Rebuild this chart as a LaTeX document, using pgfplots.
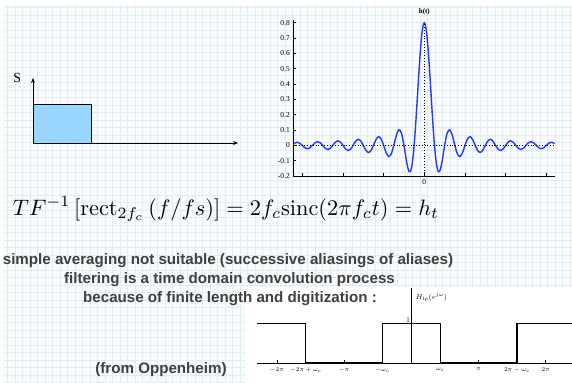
\documentclass[border=0pt]{standalone}
\usepackage{pgfplots}
\pgfplotsset{compat=1.18}
\usepackage{graphicx}
\usepackage{fontspec}
\usetikzlibrary{arrows.meta}
\newfontfamily\hel{Liberation Sans}
\newfontfamily\tms{Liberation Serif}
\definecolor{gridbg}{RGB}{248,250,251}
\definecolor{gridln}{RGB}{226,235,240}
\definecolor{txt}{RGB}{64,64,64}
\definecolor{sincblue}{RGB}{30,60,255}
\definecolor{rectblue}{RGB}{153,214,255}

\pgfplotstableread{
t h
-12.8 0.0117
-12.75 0.0141
-12.5 0.0204
-12.25 0.0147
-12 0
-11.75 -0.0153
-11.5 -0.0221
-11.25 -0.0160
-11 0
-10.75 0.0168
-10.5 0.0243
-10.25 0.0176
-10 0
-9.75 -0.0185
-9.5 -0.0268
-9.25 -0.0195
-9 0
-8.75 0.0206
-8.5 0.0300
-8.25 0.0218
-8 0
-7.75 -0.0232
-7.5 -0.0340
-7.25 -0.0248
-7 0
-6.75 0.0267
-6.5 0.0392
-6.25 0.0288
-6 0
-5.75 -0.0313
-5.5 -0.0463
-5.25 -0.0343
-5 0
-4.75 0.0379
-4.5 0.0566
-4.25 0.0424
-4 0
-3.75 -0.0480
-3.5 -0.0728
-3.25 -0.0554
-3 0
-2.75 0.0655
-2.5 0.1019
-2.25 0.0800
-2 0
-1.875 -0.0520
-1.75 -0.1029
-1.625 -0.1448
-1.5 -0.1698
-1.375 -0.1711
-1.25 -0.1441
-1.125 -0.0866
-1 0
-0.875 0.1114
-0.75 0.2401
-0.625 0.3764
-0.5 0.5093
-0.375 0.6274
-0.25 0.7203
-0.125 0.7796
0 0.8
0.125 0.7796
0.25 0.7203
0.375 0.6274
0.5 0.5093
0.625 0.3764
0.75 0.2401
0.875 0.1114
1 0
1.125 -0.0866
1.25 -0.1441
1.375 -0.1711
1.5 -0.1698
1.625 -0.1448
1.75 -0.1029
1.875 -0.0520
2 0
2.25 0.0800
2.5 0.1019
2.75 0.0655
3 0
3.25 -0.0554
3.5 -0.0728
3.75 -0.0480
4 0
4.25 0.0424
4.5 0.0566
4.75 0.0379
5 0
5.25 -0.0343
5.5 -0.0463
5.75 -0.0313
6 0
6.25 0.0288
6.5 0.0392
6.75 0.0267
7 0
7.25 -0.0248
7.5 -0.0340
7.75 -0.0232
8 0
8.25 0.0218
8.5 0.0300
8.75 0.0206
9 0
9.25 -0.0195
9.5 -0.0268
9.75 -0.0185
10 0
10.25 0.0176
10.5 0.0243
10.75 0.0168
11 0
11.25 -0.0160
11.5 -0.0221
11.75 -0.0153
12 0
12.25 0.0147
12.5 0.0204
12.75 0.0141
12.8 0.0117
}\sinctable

\begin{document}
\begin{tikzpicture}
\useasboundingbox (0,0) rectangle (572bp,-383bp);
\fill[white] (0,0) rectangle (572bp,-383bp);
\fill[gridbg] (4bp,-5bp) rectangle (572bp,-383bp);
\begin{scope}
\clip (4bp,-5bp) rectangle (572bp,-383bp);
\draw[gridln, line width=0.4bp, step=7.5bp] (0,-390bp) grid (580bp,0);
\end{scope}
\fill[white] (245bp,-287bp) rectangle (572bp,-383bp);

% ---- sinc plot ----
\begin{axis}[at={(293.3bp,-176bp)}, anchor=south west, scale only axis,
  width=261.7bp, height=156bp,
  xmin=-12.88, xmax=12.85, ymin=-0.2, ymax=0.818,
  axis lines*=left, axis line style={black, line width=0.8bp},
  tick align=inside, major tick length=3bp, tick style={black, line width=0.6bp},
  xtick={-12,-8,-4,0,4,8,12}, xticklabels={,,,0,,,},
  ytick={-0.2,-0.1,0,0.1,0.2,0.3,0.4,0.5,0.6,0.7,0.8},
  yticklabel style={/pgf/number format/fixed, /pgf/number format/precision=1},
  tick label style={font=\tms\fontsize{7.5}{8}\selectfont},
  /pgf/number format/assume math mode=true,
  clip=false]
\addplot[sincblue, line width=1.4bp, smooth] table[x=t,y=h] {\sinctable};
\addplot[black, dotted, line width=0.8bp] coordinates {(-12.88,0) (12.85,0)};
\addplot[black, dotted, line width=0.8bp] coordinates {(0,-0.2) (0,0.8)};
\node[font=\tms\bfseries\fontsize{7}{8}\selectfont, above=2bp] at (axis cs:0,0.818) {h(t)};
\end{axis}

% ---- rect sketch ----
\begin{axis}[at={(33bp,-143bp)}, anchor=south west, scale only axis,
  width=205bp, height=65bp,
  xmin=0, xmax=3.5, ymin=0, ymax=1.68,
  axis lines=left,
  axis line style={black, line width=0.8bp, -{Stealth[length=5bp,width=4bp]}},
  xtick=\empty, ytick=\empty, clip=false]
\addplot[draw=black, line width=0.8bp, fill=rectblue] coordinates {(0,0) (0,1) (1,1) (1,0) (0,0)};
\node[font=\tms\fontsize{14}{14}\selectfont] at (axis cs:-0.27,1.68) {S};
\end{axis}

% ---- H_lp plot ----
\begin{axis}[at={(256.7bp,-363bp)}, anchor=south west, scale only axis,
  width=315.3bp, height=75bp,
  xmin=-2.30, xmax=2.39, ymin=0, ymax=1.89,
  axis lines*=middle, axis line style={black, line width=0.6bp},
  ytick=\empty,
  xtick={-2,-1.57,-1,-0.43,0.43,1,1.57,2},
  xticklabels={$-2\pi$,$-2\pi+\omega_c$,$-\pi$,$-\omega_c$,$\omega_c$,$\pi$,$2\pi-\omega_c$,$2\pi$},
  tick align=inside, major tick length=3.5bp, tick style={black, line width=0.6bp},
  xticklabel style={font=\fontsize{6.5}{7}\selectfont, yshift=-1bp},
  clip=false]
\addplot[black, line width=1.3bp] coordinates {(-2.30,1) (-1.57,1) (-1.57,0) (-0.43,0) (-0.43,1) (0.43,1) (0.43,0) (1.57,0) (1.57,1) (2.39,1)};
\node[font=\fontsize{7}{8}\selectfont, anchor=south east, inner sep=1bp] at (axis cs:0,1) {1};
\node[font=\fontsize{7}{8}\selectfont, anchor=west, inner sep=1bp] at (axis cs:0.05,1.66) {$H_{\mathrm{lp}}(e^{j\omega})$};
\end{axis}

% ---- texts ----
\node[anchor=base west, inner sep=0] at (12.7bp,-215bp) {\scalebox{2.24}{$TF^{-1}\left[\mathrm{rect}_{2f_c}\left(f/fs\right)\right] = 2f_c\mathrm{sinc}(2\pi f_c t) = h_t$}};
\node[font=\hel\bfseries\fontsize{15.2}{18}\selectfont, text=txt, anchor=base, inner sep=0] at (228bp,-264.5bp) {simple averaging not suitable (successive aliasings of aliases)};
\node[font=\hel\bfseries\fontsize{15.2}{18}\selectfont, text=txt, anchor=base, inner sep=0] at (229.5bp,-283.5bp) {filtering is a time domain convolution process};
\node[font=\hel\bfseries\fontsize{15.2}{18}\selectfont, text=txt, anchor=base, inner sep=0] at (230bp,-302.5bp) {because of finite length and digitization :};
\node[font=\hel\bfseries\fontsize{15.2}{18}\selectfont, text=txt, anchor=base, inner sep=0] at (161bp,-373bp) {(from Oppenheim)};
\end{tikzpicture}
\end{document}
